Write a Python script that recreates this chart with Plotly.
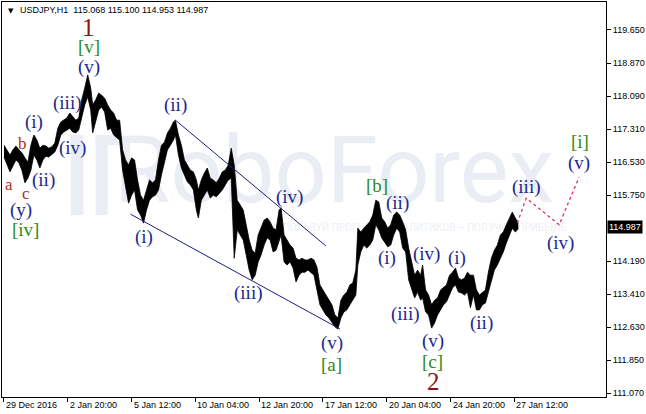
import plotly.graph_objects as go

symbol = "USDJPY,H1"
last_bar = [115.068, 115.100, 114.953, 114.987]  # open, high, low, close of the live bar

# hourly bars sampled every ~3 hours, hour 0 = 29 Dec 2016 00:00 (weekend hours skipped)
bar_hour = [
    0, 3, 6, 9, 12, 15, 18, 21, 24, 27, 30, 33, 36, 39, 42, 45, 48, 51, 54, 57,
    60, 63, 66, 69, 72, 75, 78, 81, 84, 87, 89, 92, 95, 98, 101, 104, 107, 110, 113, 116,
    119, 122, 125,
    128, 131, 134, 137, 140, 143, 146, 149, 152, 155, 158, 161, 164, 167, 170,
    172, 175, 178, 181, 184, 187, 190, 193,
    195, 198, 201, 204, 207, 210, 213, 216, 219, 222, 225, 228, 231, 234, 237, 240, 243, 246, 249,
    252, 255, 258, 261, 264, 267, 270, 273, 276, 278,
    281, 284, 287, 290, 293, 296, 299, 302, 305, 308, 311, 314, 317, 320, 323, 326, 329, 332,
    335, 338, 341, 344, 347, 350, 353, 355, 358, 361, 364, 367, 370, 373, 376,
    379, 382, 385, 388, 391, 394, 397, 400, 403, 406, 409, 412, 415, 418, 420,
    423, 426, 429, 432, 435, 438, 441, 444, 447, 450, 453, 456, 459, 462, 465, 468, 471, 474,
    477, 480, 483, 486, 489, 492, 495, 498, 501, 504, 507, 510, 513, 516,
]
bar_high = [
    116.93, 116.82, 116.70, 116.82, 116.91, 116.82, 116.75, 116.63, 116.53, 116.93, 117.17, 117.05,
    116.86, 116.93, 116.91, 116.86, 116.89, 116.98, 117.33, 117.48, 117.52, 117.57, 117.69, 117.59,
    117.52, 117.57, 118.00, 118.28, 118.59, 118.28, 117.88, 118.00, 118.16, 118.11, 118.04, 117.88,
    117.76, 117.69, 117.52, 117.52, 116.82, 116.58, 116.46,
    116.63, 116.58, 116.11, 115.75, 115.63, 115.87, 116.11, 116.04, 116.11, 116.58, 116.93, 117.00,
    117.22, 117.33, 117.48,
    117.52, 117.17, 116.93, 116.58, 116.46, 116.34, 116.30, 116.11,
    115.87, 116.11, 116.27, 116.39, 116.15, 116.11, 116.04, 116.15, 116.30, 116.34, 116.46, 116.86,
    116.46, 115.63, 115.52, 115.40, 115.05, 114.69, 114.45,
    114.38, 114.81, 114.97, 115.16, 115.21, 115.12, 114.97, 114.93, 115.40, 115.45,
    114.81, 114.69, 114.57, 114.50, 114.26, 114.22, 114.26, 114.22, 114.22, 114.26, 114.22, 114.05,
    113.63, 113.51, 113.39, 113.27, 113.16, 112.92, 112.85, 113.27, 113.39, 113.46, 113.63, 113.68,
    113.98, 114.97, 114.88, 114.97, 115.05, 115.12, 115.28, 115.63, 115.59,
    115.21, 115.12, 114.97, 115.05, 115.28, 115.35, 115.28, 115.12, 114.93, 114.50, 114.17, 113.86,
    113.98, 113.86, 114.10,
    113.51, 113.39, 113.16, 113.27, 113.32, 113.51, 113.56, 113.63, 113.86, 113.93, 114.03, 113.79,
    113.75, 113.79, 113.93, 113.86, 113.86, 113.51, 113.39, 113.44, 113.51, 113.93, 114.26, 114.45,
    114.57, 114.81, 114.88, 115.05, 115.21, 115.35, 115.21, 115.10,
]
bar_low = [
    116.65, 116.46, 116.30, 116.44, 116.58, 116.51, 116.34, 116.04, 116.15, 116.34, 116.70, 116.58,
    116.39, 116.58, 116.67, 116.65, 116.70, 116.77, 116.93, 117.17, 117.24, 117.29, 117.33, 117.24,
    117.22, 117.29, 117.57, 117.88, 118.07, 117.76, 117.22, 117.52, 117.76, 117.83, 117.71, 117.29,
    117.33, 117.17, 117.10, 117.05, 116.34, 115.99, 115.56,
    115.75, 115.87, 115.40, 115.28, 115.09, 115.40, 115.63, 115.71, 115.75, 115.87, 116.23, 116.53,
    116.82, 116.93, 117.05,
    117.17, 116.70, 116.39, 116.23, 116.06, 115.99, 115.87, 115.40,
    115.21, 115.63, 115.75, 115.87, 115.68, 115.75, 115.71, 115.80, 115.87, 115.99, 116.11, 116.15,
    114.26, 114.93, 114.81, 114.69, 114.34, 113.98, 113.75,
    113.86, 114.17, 114.34, 114.57, 114.74, 114.69, 114.41, 114.45, 114.69, 114.81,
    114.17, 114.10, 114.17, 114.03, 113.70, 113.86, 113.93, 113.93, 113.98, 113.93, 113.86, 113.51,
    113.16, 113.04, 112.92, 112.85, 112.75, 112.64, 112.59, 112.85, 112.99, 113.04, 113.16, 113.27,
    113.39, 114.10, 114.41, 114.57, 114.50, 114.57, 114.69, 115.05, 114.93,
    114.74, 114.64, 114.53, 114.57, 114.81, 114.97, 114.88, 114.50, 114.41, 113.75, 113.56, 113.32,
    113.46, 113.27, 113.32,
    112.99, 112.92, 112.61, 112.73, 112.92, 113.04, 113.16, 113.23, 113.39, 113.56, 113.63, 113.46,
    113.44, 113.39, 113.46, 113.09, 113.39, 113.04, 113.04, 113.16, 113.20, 113.46, 113.75, 113.98,
    114.10, 114.26, 114.41, 114.62, 114.81, 114.97, 114.88, 114.95,
]

tick_hour = [0, 64, 128, 192, 256, 320, 384, 448, 512]
tick_text = ["29 Dec 2016", "2 Jan 20:00", "5 Jan 12:00", "10 Jan 04:00", "12 Jan 20:00",
             "17 Jan 12:00", "20 Jan 04:00", "24 Jan 20:00", "27 Jan 12:00"]
price_ticks = [111.070, 111.850, 112.630, 113.410, 114.190,
               115.750, 116.530, 117.310, 118.090, 118.870, 119.650]

# channel lines and forecast path
upper_hour = [172, 323]
upper_price = [117.52, 114.55]
lower_hour = [127, 337]
lower_price = [115.30, 112.59]
forecast_hour = [515, 524, 557, 577]
forecast_price = [115.09, 115.68, 115.05, 116.18]

# wave marks: text, hour, price, degree
wave_labels = [
    ("1", 85, 119.70, "major"), ("[v]", 85, 119.25, "minor"), ("(v)", 85, 118.78, "minute"),
    ("(iii)", 64, 117.93, "minute"), ("(i)", 30, 117.48, "minute"), ("b", 19, 116.98, "sub"),
    ("(iv)", 69, 116.86, "minute"), ("a", 5, 115.99, "sub"), ("(ii)", 40, 116.11, "minute"),
    ("c", 22, 115.78, "sub"), ("(y)", 17, 115.40, "minute"), ("[iv]", 22, 114.93, "minor"),
    ("(ii)", 172, 117.88, "minute"), ("(i)", 140, 114.76, "minute"),
    ("(iv)", 286, 115.71, "minute"), ("(iii)", 245, 113.44, "minute"),
    ("(v)", 329, 112.26, "minute"), ("[a]", 329, 111.74, "minor"),
    ("[b]", 374, 115.97, "minor"), ("(ii)", 395, 115.56, "minute"), ("(i)", 384, 114.26, "minute"),
    ("(iv)", 424, 114.36, "minute"), ("(iii)", 403, 112.94, "minute"),
    ("(v)", 430, 112.30, "minute"), ("[c]", 430, 111.83, "minor"), ("2", 431, 111.34, "major"),
    ("(i)", 454, 114.26, "minute"), ("(ii)", 479, 112.73, "minute"),
    ("(iii)", 524, 115.94, "minute"), ("(iv)", 558, 114.62, "minute"),
    ("(v)", 577, 116.51, "minute"), ("[i]", 578, 117.01, "minor"),
]

degree_style = {
    "major": dict(color="#8e1414", size=25),
    "minor": dict(color="#2f8a1c", size=19),
    "minute": dict(color="#22288e", size=19),
    "sub": dict(color="#b0321a", size=17),
}

fig = go.Figure()

# watermark behind the bars
fig.add_trace(go.Scatter(
    x=[331], y=[116.12], mode="text", text=["RoboForex"],
    textfont=dict(family="Roboto", size=92, color="#eaeef4"),
    hoverinfo="skip"
))
fig.add_trace(go.Scatter(
    x=[415], y=[114.97], mode="text", text=["ИСПОЛЬЗУЙ ПРОГНОЗЫ АНАЛИТИКОВ – ПОЛУЧАЙ ПРИБЫЛЬ"],
    textfont=dict(family="Roboto", size=10, color="#edf0f4"),
    hoverinfo="skip"
))

# price band: low edge, then high edge filled down to it
fig.add_trace(go.Scatter(
    x=bar_hour, y=bar_low, mode="lines",
    line=dict(color="black", width=0.8), hoverinfo="skip"
))
fig.add_trace(go.Scatter(
    x=bar_hour, y=bar_high, mode="lines", fill="tonexty", fillcolor="black",
    line=dict(color="black", width=0.8), hoverinfo="skip"
))

for hx, py in [(upper_hour, upper_price), (lower_hour, lower_price)]:
    fig.add_trace(go.Scatter(
        x=hx, y=py, mode="lines",
        line=dict(color="#1c1c80", width=1), hoverinfo="skip"
    ))

fig.add_trace(go.Scatter(
    x=forecast_hour, y=forecast_price, mode="lines",
    line=dict(color="#e2305a", width=1.3, dash="dot"), hoverinfo="skip"
))

annotations = []
for text, hx, py, degree in wave_labels:
    st = degree_style[degree]
    annotations.append(dict(
        x=hx, y=py, xref="x", yref="y", text=text, showarrow=False,
        font=dict(family="Liberation Serif", size=st["size"], color=st["color"])
    ))

for hx, label in zip(tick_hour, tick_text):
    annotations.append(dict(
        x=hx, y=0, xref="x", yref="paper", text=label, showarrow=False,
        xanchor="left", yanchor="top", xshift=0, yshift=-1,
        font=dict(family="Liberation Sans", size=9, color="black")
    ))

# live price tag
annotations.append(dict(
    x=1, y=last_bar[3], xref="paper", yref="y", text=f"{last_bar[3]:.3f}", showarrow=False,
    xanchor="left", yanchor="middle", xshift=1, bgcolor="black", borderpad=1,
    font=dict(family="Liberation Sans", size=9, color="white")
))

# header
annotations.append(dict(
    x=0, y=1, xref="paper", yref="paper", text="▼", showarrow=False,
    xanchor="left", yanchor="top", xshift=4, yshift=-3,
    font=dict(family="DejaVu Sans", size=7, color="black")
))
annotations.append(dict(
    x=0, y=1, xref="paper", yref="paper",
    text=symbol + "  " + " ".join(f"{v:.3f}" for v in last_bar), showarrow=False,
    xanchor="left", yanchor="top", xshift=16, yshift=-1,
    font=dict(family="Liberation Sans", size=9, color="black")
))

# faint logo bars of the watermark
logo_shapes = [
    dict(type="rect", xref="paper", yref="paper", x0=0.114, x1=0.135, y0=0.46, y1=0.663,
         fillcolor="#eaeef4", line_width=0, layer="below"),
    dict(type="rect", xref="paper", yref="paper", x0=0.155, x1=0.193, y0=0.638, y1=0.663,
         fillcolor="#eaeef4", line_width=0, layer="below"),
    dict(type="rect", xref="paper", yref="paper", x0=0.155, x1=0.175, y0=0.46, y1=0.663,
         fillcolor="#eaeef4", line_width=0, layer="below"),
]

fig.update_layout(
    width=646, height=414,
    margin=dict(l=1, r=39, t=2, b=17),
    paper_bgcolor="white", plot_bgcolor="white",
    showlegend=False, hovermode=False,
    annotations=annotations,
    shapes=logo_shapes,
    xaxis=dict(
        range=[-2, 604], showgrid=False, zeroline=False,
        showline=True, mirror=True, linecolor="black", linewidth=1,
        ticks="outside", ticklen=4, tickcolor="black",
        tickvals=tick_hour, showticklabels=False,
    ),
    yaxis=dict(
        range=[110.983, 120.311], side="right", showgrid=False, zeroline=False,
        showline=True, mirror=True, linecolor="black", linewidth=1,
        ticks="outside", ticklen=4, tickcolor="black",
        tickvals=price_ticks, ticktext=[f"{p:.3f}" for p in price_ticks],
        tickfont=dict(family="Liberation Sans", size=9, color="black"),
    ),
)

# the page body has a default 8px margin; drop it so the figure sits at the window corner
fig.write_html("out.html", config={"displayModeBar": False},
               post_script="document.body.style.margin='0';")
